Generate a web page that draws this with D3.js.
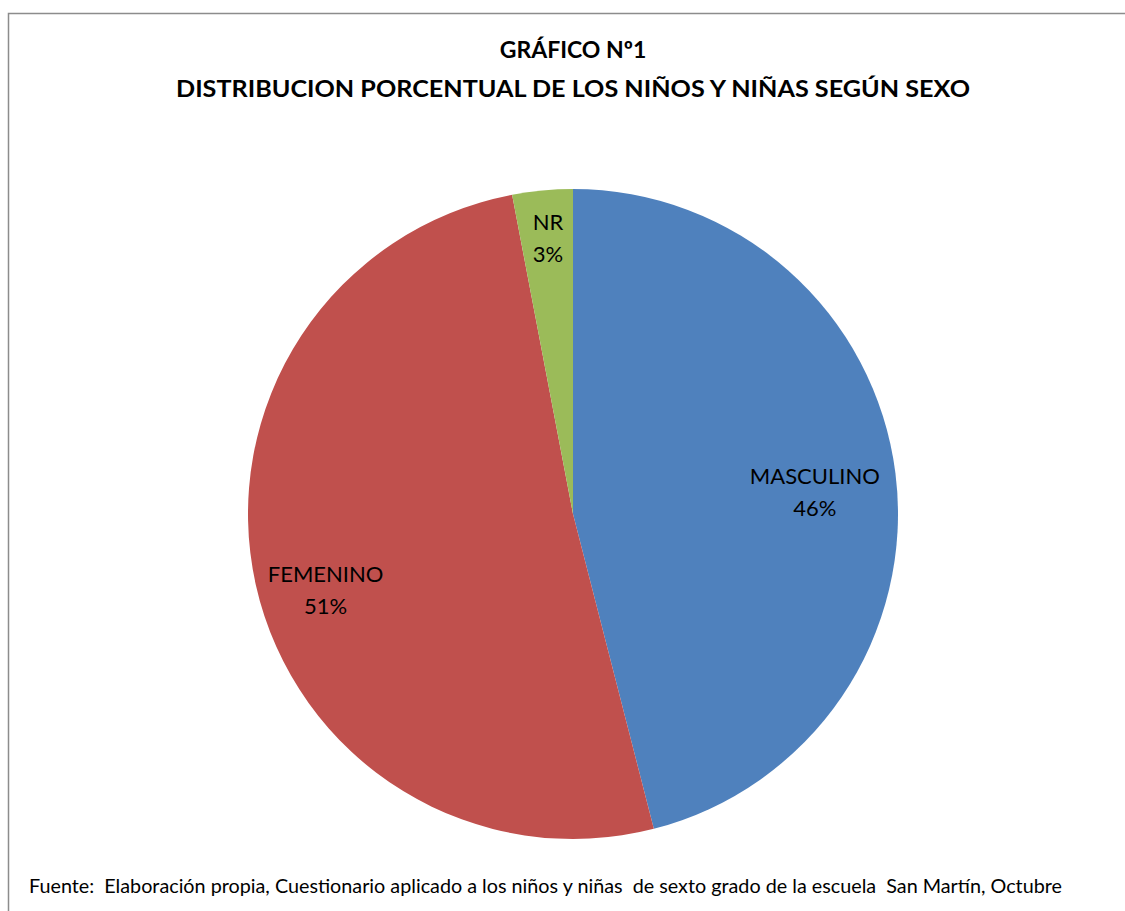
<!DOCTYPE html>
<html>
<head>
<meta charset="utf-8">
<script src="https://cdn.jsdelivr.net/npm/d3@7"></script>
<style>
  body { margin: 0; background: #fff; }
  svg { display: block; font-family: Lato, "Open Sans", sans-serif; }
</style>
</head>
<body>
<div id="chart"></div>
<script>
const categories = ["MASCULINO", "FEMENINO", "NR"];
const values = [46, 51, 3];
const labels = ["46%", "51%", "3%"];
const colors = ["#4f81bd", "#c0504d", "#9bbb59"];

const svgWidth = 1125;
const svgHeight = 911;

const svg = d3.select("#chart").append("svg")
  .attr("width", svgWidth)
  .attr("height", svgHeight);

// marco del grafico
svg.append("path")
  .attr("d", "M8.5,911 V13.5 H1125")
  .attr("fill", "none")
  .attr("stroke", "#8c8c8c")
  .attr("stroke-width", 1.5);

// titulo
const title = svg.append("text")
  .attr("text-anchor", "middle")
  .style("font-weight", "bold")
  .style("font-size", "23px")
  .style("fill", "#000");
title.append("tspan").attr("x", 573).attr("y", 58).text("GRÁFICO Nº1");
title.append("tspan").attr("x", 573).attr("y", 97)
  .attr("textLength", 794).attr("lengthAdjust", "spacingAndGlyphs")
  .text("DISTRIBUCION PORCENTUAL DE LOS NIÑOS Y NIÑAS SEGÚN SEXO");

const cx = 573, cy = 514, radius = 325;

const pie = d3.pie().sort(null).value(d => d);
const arc = d3.arc().innerRadius(0).outerRadius(radius);

const g = svg.append("g").attr("transform", `translate(${cx},${cy})`);

const arcs = g.selectAll(".arc")
  .data(pie(values))
  .enter().append("g")
  .attr("class", "arc");

arcs.append("path")
  .attr("d", arc)
  .attr("fill", (d, i) => colors[i]);

// etiquetas dentro de cada sector (radio relativo y ajuste vertical)
const labelRadius = [0.75, 0.78, 0.82];
const labelShift = [1, 13, -19];

arcs.append("text")
  .attr("text-anchor", "middle")
  .style("font-size", "22px")
  .style("fill", "#000")
  .each(function (d, i) {
    const r = radius * labelRadius[i];
    const p = d3.arc().innerRadius(r).outerRadius(r).centroid(d);
    const t = d3.select(this);
    t.append("tspan").attr("x", p[0]).attr("y", p[1] + labelShift[i]).text(categories[i]);
    t.append("tspan").attr("x", p[0]).attr("y", p[1] + labelShift[i] + 32).text(labels[i]);
  });

// fuente
svg.append("text")
  .attr("x", 29)
  .attr("y", 893)
  .attr("textLength", 1033).attr("lengthAdjust", "spacingAndGlyphs")
  .style("font-size", "19px")
  .style("white-space", "pre")
  .style("fill", "#000")
  .text("Fuente:  Elaboración propia, Cuestionario aplicado a los niños y niñas  de sexto grado de la escuela  San Martín, Octubre");
</script>
</body>
</html>
